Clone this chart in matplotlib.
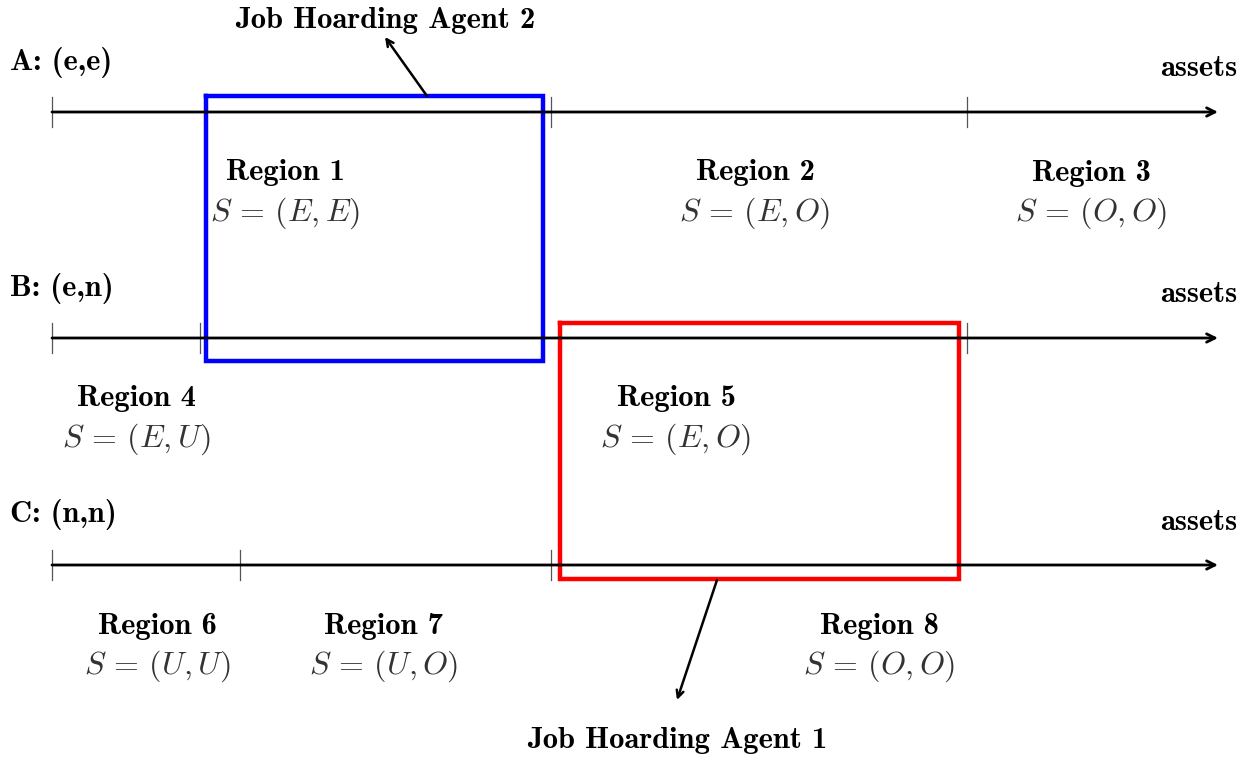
import os
import matplotlib
import matplotlib.pyplot as plt
from matplotlib.font_manager import FontProperties

plt.rcParams['mathtext.fontset'] = 'cm'
cmb = os.path.join(matplotlib.get_data_path(), 'fonts', 'ttf', 'cmb10.ttf')

# asset axes (one per scenario), positions in pixel coords of the diagram
rows = ['A: (e,e)', 'B: (e,n)', 'C: (n,n)']
row_y = [112, 338, 565]
ticks = [[52, 551, 967], [52, 200, 967], [52, 240, 551]]
axis_start, axis_end = 52, 1218

regions = ['Region 1', 'Region 2', 'Region 3', 'Region 4', 'Region 5',
           'Region 6', 'Region 7', 'Region 8']
states = ['(E,E)', '(E,O)', '(O,O)', '(E,U)', '(E,O)', '(U,U)', '(U,O)', '(O,O)']
region_x = [285, 755, 1091, 136, 676, 157, 384, 879]
region_row = [0, 0, 0, 1, 1, 2, 2, 2]

# job hoarding boxes: (x0, x1, y0, y1)
box2 = (206, 543, 96, 361)
box1 = (560, 959, 323, 579)

fig = plt.figure(figsize=(12.43, 7.58), dpi=100)
ax = fig.add_axes([0, 0, 1, 1])
ax.set_xlim(0, 1243)
ax.set_ylim(758, 0)
ax.axis('off')

bf = FontProperties(fname=cmb, size=22)

for name, y, tk in zip(rows, row_y, ticks):
    ax.annotate('', xy=(axis_end, y), xytext=(axis_start, y),
                arrowprops=dict(arrowstyle='->,head_length=0.6,head_width=0.3',
                                lw=2.0, color='black', shrinkA=0, shrinkB=0))
    for t in tk:
        ax.plot([t, t], [y - 15, y + 15], color='#555555', lw=0.9)
    ax.text(10, y - 50, name, fontproperties=bf, ha='left', va='center')
    ax.text(1237, y - 43, 'assets', fontproperties=bf, ha='right', va='center')

for r, s, x, ri in zip(regions, states, region_x, region_row):
    y = row_y[ri]
    ax.text(x, y + 61, r, fontproperties=bf, ha='center', va='center')
    ax.text(x, y + 101, r'$S\,=\,' + s + '$', fontsize=23, ha='center',
            va='center', color='#333333')

for (x0, x1, y0, y1), c in [(box2, 'blue'), (box1, 'red')]:
    ax.plot([x0, x1, x1, x0, x0], [y0, y0, y1, y1, y0], color=c, lw=3.2,
            solid_joinstyle='miter')

ax.annotate('', xy=(385, 37), xytext=(427, 96),
            arrowprops=dict(arrowstyle='->,head_length=0.5,head_width=0.25',
                            lw=1.8, color='black', shrinkA=0, shrinkB=0))
ax.text(385, 20, 'Job Hoarding Agent 2', fontproperties=bf, ha='center', va='center')

ax.annotate('', xy=(677, 700), xytext=(717, 580),
            arrowprops=dict(arrowstyle='->,head_length=0.5,head_width=0.25',
                            lw=1.8, color='black', shrinkA=0, shrinkB=0))
ax.text(677, 740, 'Job Hoarding Agent 1', fontproperties=bf, ha='center', va='center')

fig.savefig('out.png', dpi=100, facecolor='white')
